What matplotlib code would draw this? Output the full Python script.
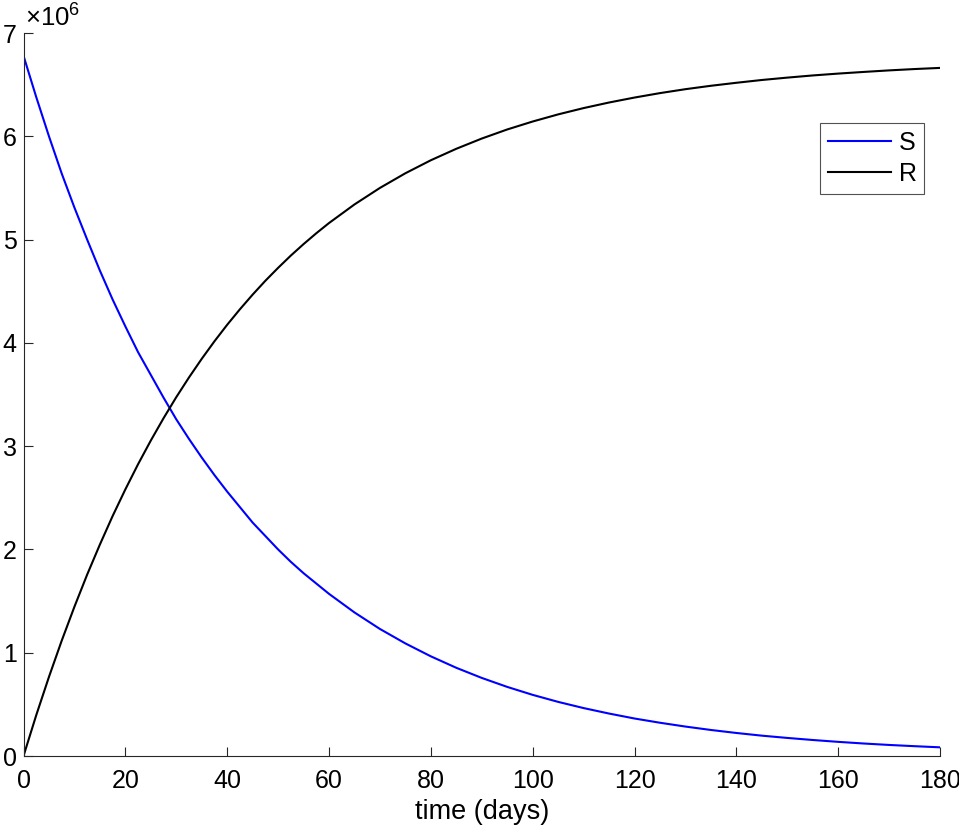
import matplotlib
matplotlib.use("Agg")
import matplotlib.pyplot as plt

plt.rcParams['font.family'] = ['Liberation Sans', 'DejaVu Sans']
plt.rcParams['mathtext.fontset'] = 'custom'
plt.rcParams['mathtext.rm'] = 'Liberation Sans'
plt.rcParams['mathtext.it'] = 'Liberation Sans'

# time in days
t = [0, 2.5, 5, 7.5, 10, 12.5, 15, 17.5, 20, 22.5, 25, 27.5, 30, 32.5, 35,
     37.5, 40, 42.5, 45, 47.5, 50, 52.5, 55, 57.5, 60, 65, 70, 75, 80, 85, 90,
     95, 100, 105, 110, 115, 120, 125, 130, 135, 140, 145, 150, 155, 160, 165,
     170, 175, 180]
# susceptible (millions)
S = [6.78, 6.38, 6.00, 5.64, 5.31, 5.00, 4.70, 4.42, 4.16, 3.91, 3.69, 3.47,
     3.26, 3.07, 2.89, 2.72, 2.56, 2.41, 2.26, 2.13, 2.00, 1.88, 1.77, 1.67,
     1.57, 1.39, 1.23, 1.09, 0.965, 0.854, 0.756, 0.669, 0.592, 0.524, 0.464,
     0.411, 0.363, 0.322, 0.285, 0.252, 0.223, 0.197, 0.175, 0.155, 0.137,
     0.121, 0.107, 0.095, 0.084]
# recovered (millions)
R = [0.0, 0.395, 0.766, 1.116, 1.445, 1.756, 2.047, 2.323, 2.581, 2.825,
     3.054, 3.270, 3.474, 3.665, 3.845, 4.015, 4.175, 4.325, 4.467, 4.601,
     4.726, 4.845, 4.956, 5.061, 5.160, 5.340, 5.500, 5.642, 5.768, 5.879,
     5.978, 6.066, 6.143, 6.212, 6.273, 6.327, 6.375, 6.418, 6.456, 6.489,
     6.518, 6.545, 6.568, 6.589, 6.607, 6.623, 6.638, 6.651, 6.662]
labels = ['S', 'R']
xticks = [0, 20, 40, 60, 80, 100, 120, 140, 160, 180]
yticks = [0, 1, 2, 3, 4, 5, 6, 7]

W, H = 959, 833
fig = plt.figure(figsize=(W / 100, H / 100), dpi=100)
ax = fig.add_axes([23.5 / W, (H - 756) / H, (940 - 23.5) / W, (756 - 33) / H])

ax.plot(t, [v * 1e6 for v in S], color=(0, 0, 1), lw=1.5, label=labels[0])
ax.plot(t, [v * 1e6 for v in R], color='black', lw=1.5, label=labels[1])

ax.set_xlim(0, 180)
ax.set_ylim(0, 7e6)
ax.set_xticks(xticks)
ax.set_xticklabels([str(v) for v in xticks])
ax.set_yticks([v * 1e6 for v in yticks])
ax.set_yticklabels([str(v) for v in yticks])

for s in ['top', 'right']:
    ax.spines[s].set_visible(False)
for s in ['left', 'bottom']:
    ax.spines[s].set_color('#262626')
    ax.spines[s].set_linewidth(0.8)
ax.tick_params(direction='in', length=6.5, width=0.8, color='#262626',
               labelsize=18, labelcolor='black')
ax.tick_params(axis='x', pad=9)
ax.tick_params(axis='y', pad=5)
ax.set_xlabel('time (days)', fontsize=19.5, labelpad=5)

ax.text(0.002, 1.002, r'$\times10^{6}$', transform=ax.transAxes, fontsize=18.5,
        ha='left', va='bottom')

leg = ax.legend(loc='upper left', bbox_to_anchor=(820 / W, 1 - 123 / H),
                bbox_transform=fig.transFigure, fontsize=18, frameon=True,
                fancybox=False, edgecolor='#262626', handlelength=2.55,
                handletextpad=0.3, labelspacing=0.3, borderpad=0.3,
                borderaxespad=0)
leg.get_frame().set_linewidth(0.8)

fig.savefig('out.png', dpi=100)
